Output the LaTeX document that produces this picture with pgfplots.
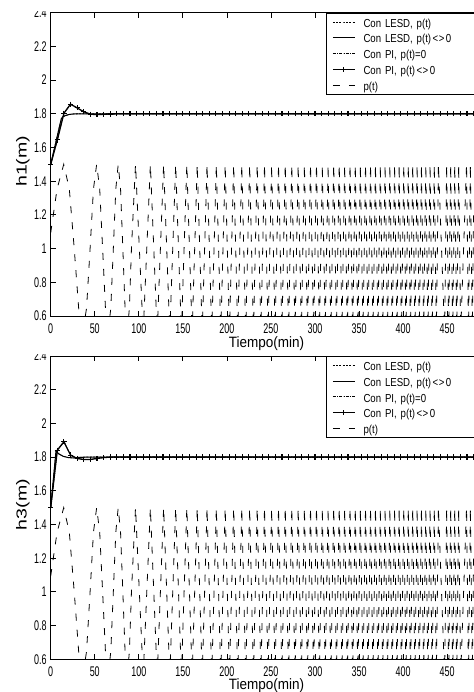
\documentclass[border=0pt]{standalone}
\usepackage{fontspec}
\setmainfont{Liberation Sans}
\newfontfamily\tickfont{Liberation Sans}[FakeStretch=0.64]
\newfontfamily\legfont{Liberation Sans}[FakeStretch=0.83]
\newfontfamily\xlabfont{Liberation Sans}[FakeStretch=0.9]
\newfontfamily\ylabfont{Liberation Sans}[FakeStretch=1.35]
\usepackage{pgfplots}
\usepackage{pgfplotstable}
\pgfplotsset{compat=1.18}

% p(t): disturbance signal (peaks, troughs)
\pgfplotstableread{
t p
0 1.094
7.23 1.354
14.79 1.5
21.14 1.354
26.72 1.0
31.75 0.646
36.37 0.5
40.68 0.646
44.71 1.0
48.53 1.354
52.16 1.5
55.62 1.354
58.94 1.0
62.14 0.646
65.22 0.5
68.20 0.646
71.09 1.0
73.90 1.354
76.63 1.5
79.29 1.354
81.88 1.0
84.41 0.646
86.88 0.5
89.30 0.646
91.67 1.0
96.27 1.5
104.98 0.5
113.14 1.5
120.86 0.5
128.18 1.5
135.17 0.5
141.86 1.5
148.30 0.5
154.51 1.5
160.51 0.5
166.32 1.5
171.97 0.5
177.45 1.5
182.79 0.5
187.99 1.5
193.08 0.5
198.04 1.5
202.90 0.5
207.66 1.5
212.32 0.5
216.89 1.5
221.38 0.5
225.79 1.5
230.12 0.5
234.38 1.5
238.57 0.5
242.69 1.5
246.75 0.5
250.75 1.5
254.70 0.5
258.59 1.5
262.43 0.5
266.21 1.5
269.95 0.5
273.64 1.5
277.29 0.5
280.89 1.5
284.46 0.5
287.98 1.5
291.46 0.5
294.90 1.5
298.31 0.5
301.68 1.5
305.02 0.5
308.32 1.5
311.59 0.5
314.83 1.5
318.04 0.5
321.22 1.5
324.37 0.5
327.49 1.5
330.59 0.5
333.66 1.5
336.70 0.5
339.72 1.5
342.71 0.5
345.68 1.5
348.62 0.5
351.55 1.5
354.45 0.5
357.32 1.5
360.18 0.5
363.01 1.5
365.83 0.5
368.62 1.5
371.39 0.5
374.15 1.5
376.89 0.5
379.60 1.5
382.30 0.5
384.98 1.5
387.65 0.5
390.30 1.5
392.93 0.5
395.54 1.5
398.14 0.5
400.72 1.5
403.29 0.5
405.84 1.5
408.37 0.5
410.90 1.5
413.40 0.5
415.90 1.5
418.37 0.5
420.84 1.5
423.29 0.5
425.73 1.5
428.16 0.5
430.57 1.5
432.97 0.5
435.35 1.5
437.73 0.5
440.09 1.5
447.11 0.5
449.42 1.5
451.73 0.5
454.02 1.5
456.30 0.5
458.58 1.5
460.84 0.5
463.09 1.5
465.33 0.5
471.99 1.5
474.19 0.5
476.38 1.5
478.56 0.5
480 1.24
}\ptab

% h1 with LESD
\pgfplotstableread{
t h
0 1.5
4 1.59
8 1.68
12 1.77
14 1.783
17 1.79
21 1.796
26 1.799
32 1.8
480 1.8
}\lesdone

% h3 with LESD
\pgfplotstableread{
t h
0 1.5
6 1.835
9 1.82
14 1.805
20 1.797
26 1.795
32 1.798
40 1.8
480 1.8
}\lesdtwo

% h1 with PI
\pgfplotstableread{
t h
0 1.5
7.5 1.645
15 1.803
22.5 1.857
30 1.835
37.5 1.812
45 1.798
52.5 1.795
60 1.797
67.5 1.799
75 1.8
82.5 1.8
90 1.8
97.5 1.8
105 1.8
112.5 1.8
120 1.8
127.5 1.8
135 1.8
142.5 1.8
150 1.8
157.5 1.8
165 1.8
172.5 1.8
180 1.8
187.5 1.8
195 1.8
202.5 1.8
210 1.8
217.5 1.8
225 1.8
232.5 1.8
240 1.8
247.5 1.8
255 1.8
262.5 1.8
270 1.8
277.5 1.8
285 1.8
292.5 1.8
300 1.8
307.5 1.8
315 1.8
322.5 1.8
330 1.8
337.5 1.8
345 1.8
352.5 1.8
360 1.8
367.5 1.8
375 1.8
382.5 1.8
390 1.8
397.5 1.8
405 1.8
412.5 1.8
420 1.8
427.5 1.8
435 1.8
442.5 1.8
450 1.8
457.5 1.8
465 1.8
472.5 1.8
480 1.8
}\pione

% h3 with PI
\pgfplotstableread{
t h
0 1.5
7.5 1.841
15 1.891
22.5 1.812
30 1.792
37.5 1.786
45 1.786
52.5 1.792
60 1.797
67.5 1.8
75 1.8
82.5 1.8
90 1.8
97.5 1.8
105 1.8
112.5 1.8
120 1.8
127.5 1.8
135 1.8
142.5 1.8
150 1.8
157.5 1.8
165 1.8
172.5 1.8
180 1.8
187.5 1.8
195 1.8
202.5 1.8
210 1.8
217.5 1.8
225 1.8
232.5 1.8
240 1.8
247.5 1.8
255 1.8
262.5 1.8
270 1.8
277.5 1.8
285 1.8
292.5 1.8
300 1.8
307.5 1.8
315 1.8
322.5 1.8
330 1.8
337.5 1.8
345 1.8
352.5 1.8
360 1.8
367.5 1.8
375 1.8
382.5 1.8
390 1.8
397.5 1.8
405 1.8
412.5 1.8
420 1.8
427.5 1.8
435 1.8
442.5 1.8
450 1.8
457.5 1.8
465 1.8
472.5 1.8
480 1.8
}\pitwo

\newcommand{\ltgt}{\kern1.5bp<\kern0.5bp>\kern1.5bp}

\pgfplotsset{
  myaxis/.style={
    scale only axis, width=431.7bp, height=303.3bp,
    xmin=0, xmax=490, ymin=0.6, ymax=2.4,
    xtick={0,50,...,450},
    ytick={0.6,0.8,1,1.2,1.4,1.6,1.8,2,2.2,2.4},
    tick align=inside, xtick pos=both, ytick pos=both,
    major tick length=5bp,
    tick style={line width=0.8bp, black},
    axis line style={line width=0.8bp},
    ticklabel style={font=\tickfont\fontsize{14bp}{16bp}\selectfont},
    /pgf/number format/assume math mode=true,
    xticklabel style={inner sep=0pt, yshift=-7.7bp},
    yticklabel style={inner sep=0pt, xshift=-4bp},
    xlabel style={anchor=base, font=\xlabfont\fontsize{15bp}{17bp}\selectfont},
    ylabel style={at={(axis description cs:-0.0642,0.51)}, anchor=center,
      font=\ylabfont\fontsize{14.5bp}{16bp}\selectfont},
    legend cell align=left,
    legend style={at={(0.985,1)}, anchor=north east, draw=black, line width=0.8bp,
      fill=white, inner xsep=6bp, inner ysep=3.5bp, row sep=5bp,
      font=\legfont\fontsize{11.6bp}{13bp}\selectfont,
      nodes={inner sep=0pt, text height=10.6bp, text depth=0.2bp, text width=106bp}},
    legend image code/.code={%
      \draw[mark repeat=2,mark phase=2,##1] plot coordinates {(0bp,0bp) (10.85bp,0bp) (21.7bp,0bp)};
      \path (30bp,0bp);},
    lesddot/.style={black, line width=0.8bp, dash pattern=on 2bp off 1.3bp},
    lesdsol/.style={black, line width=1bp},
    pidashdot/.style={black, line width=0.8bp, dash pattern=on 3bp off 1.3bp on 0.8bp off 1.3bp},
    pimark/.style={black, line width=1.3bp, mark=+, mark size=2.6bp, mark options={solid, line width=1.1bp}},
    pdash/.style={black, line width=0.8bp, dash pattern=on 7bp off 9.05bp},
  }
}

\begin{document}
\begin{tikzpicture}
\begin{axis}[myaxis, at={(50.7bp,376bp)}, anchor=south west,
  xlabel={Tiempo(min)}, ylabel={h1(m)},
  xlabel style={at={(axis description cs:0.5,-0.104)}}]
\addplot[lesddot] table[x=t,y=h] {\lesdone};
\addlegendentry{Con LESD, p(t)}
\addplot[lesdsol] table[x=t,y=h] {\lesdone};
\addlegendentry{Con LESD, p(t)\ltgt0}
\addplot[pidashdot] table[x=t,y=h] {\pione};
\addlegendentry{Con PI, p(t)=0}
\addplot[pimark] table[x=t,y=h] {\pione};
\addlegendentry{Con PI, p(t)\ltgt0}
\addplot[pdash] table[x=t,y=p] {\ptab};
\addlegendentry{p(t)}
\end{axis}
\begin{axis}[myaxis, at={(50.7bp,32.7bp)}, anchor=south west,
  xlabel={Tiempo(min)}, ylabel={h3(m)},
  xlabel style={at={(axis description cs:0.5,-0.1)}}]
\addplot[lesddot] table[x=t,y=h] {\lesdtwo};
\addlegendentry{Con LESD, p(t)}
\addplot[lesdsol] table[x=t,y=h] {\lesdtwo};
\addlegendentry{Con LESD, p(t)\ltgt0}
\addplot[pidashdot] table[x=t,y=h] {\pitwo};
\addlegendentry{Con PI, p(t)=0}
\addplot[pimark] table[x=t,y=h] {\pitwo};
\addlegendentry{Con PI, p(t)\ltgt0}
\addplot[pdash] table[x=t,y=p] {\ptab};
\addlegendentry{p(t)}
\end{axis}
% crop edges of the original subfigures (top halves of the 2.4 labels)
\fill[white] (0bp,681bp) rectangle (48bp,700bp);
\fill[white] (0bp,338bp) rectangle (48bp,352bp);
\pgfresetboundingbox
\path[use as bounding box] (0,0) rectangle (474bp,692bp);
\end{tikzpicture}
\end{document}
